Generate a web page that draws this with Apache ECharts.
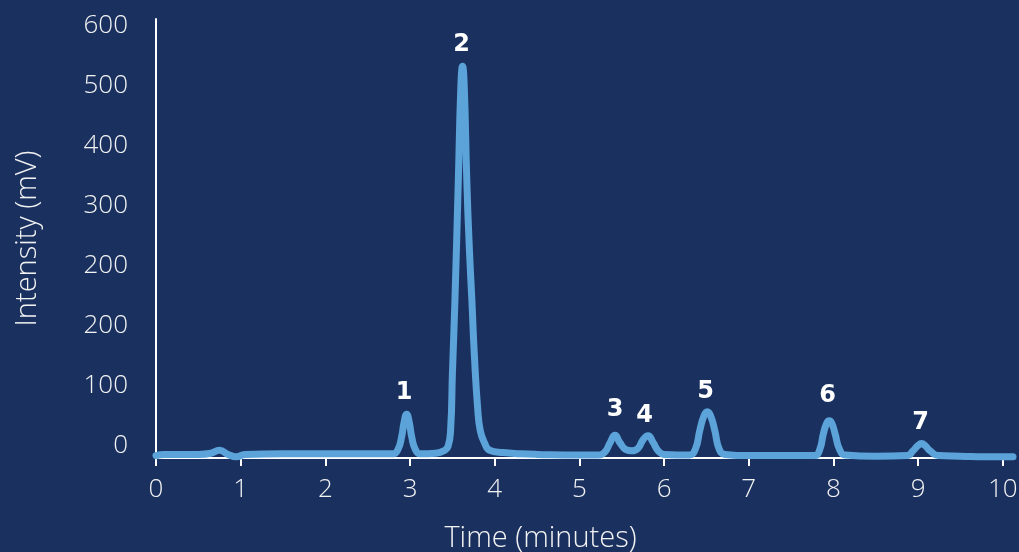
<!DOCTYPE html>
<html>
<head>
<meta charset="utf-8">
<script src="https://cdn.jsdelivr.net/npm/echarts@6/dist/echarts.min.js"></script>
<style>
html,body{margin:0;padding:0;background:#1a3160;}
#chart{width:1019px;height:552px;}
</style>
</head>
<body>
<div id="chart"></div>
<script>
// Time (minutes)
var times = [0, 0.1, 0.3, 0.5, 0.65, 0.75, 0.85, 0.95, 1.05, 1.5, 2.0, 2.5, 2.8,
  2.86, 2.90, 2.93, 2.96, 2.99, 3.02, 3.06, 3.12,
  3.30, 3.40, 3.45, 3.48, 3.50, 3.53, 3.57, 3.60, 3.62, 3.64, 3.67, 3.70, 3.73, 3.76, 3.80, 3.83, 3.88, 3.94,
  4.1, 4.3, 4.5, 5.0, 5.22,
  5.30, 5.36, 5.42, 5.48, 5.55, 5.62, 5.69, 5.75, 5.81, 5.87, 5.93, 6.0,
  6.3, 6.37, 6.42, 6.47, 6.51, 6.55, 6.60, 6.65, 6.72,
  7.0, 7.4, 7.78, 7.84, 7.88, 7.92, 7.95, 7.98, 8.02, 8.07, 8.14,
  8.5, 8.87, 8.94, 9.0, 9.04, 9.08, 9.14, 9.24,
  9.5, 9.8, 10.12];
// Intensity (mV, on the chart's printed scale)
var intensity = [-16, -14, -14, -14, -12, -7, -14, -18, -14, -13, -13, -13, -13,
  -5, 15, 40, 53, 40, 15, -5, -13,
  -12, -8, 0, 30, 120, 243, 443, 600, 633, 600, 443, 330, 243, 150, 60, 25, 5, -7,
  -11, -13, -14, -15, -15,
  -10, 5, 18, 5, -6, -8, -4, 10, 17, 6, -8, -14,
  -15, -5, 25, 50, 57, 50, 25, -5, -14,
  -16, -16, -16, -5, 20, 38, 42, 38, 20, -5, -15,
  -17, -16, -8, 1, 4, 1, -8, -16,
  -17, -18, -18];
// Peak labels
var peakNames = ['1', '2', '3', '4', '5', '6', '7'];
var peakLabelTimes = [2.93, 3.61, 5.42, 5.77, 6.49, 7.93, 9.03];
var peakLabelValues = [88, 668, 60, 51, 91, 83, 38];
// Axis tick labels
var xTickValues = [0, 1, 2, 3, 4, 5, 6, 7, 8, 9, 10];
var yTickValues = [0, 100, 200, 300, 400, 500, 600, 700];
var yTickLabels = ['0', '100', '200', '200', '300', '400', '500', '600'];

var lineData = times.map(function (t, i) { return [t, intensity[i]]; });
var labelData = peakNames.map(function (n, i) { return { value: [peakLabelTimes[i], peakLabelValues[i]], name: n }; });

var font = '"Open Sans", "DejaVu Sans", sans-serif';
var boldFont = '"DejaVu Sans", "Liberation Sans", sans-serif';
var chart = echarts.init(document.getElementById('chart'));
chart.setOption({
  backgroundColor: '#1a3160',
  animation: false,
  grid: { left: 156, right: 6, top: 19, bottom: 94, containLabel: false, outerBoundsMode: 'none' },
  xAxis: {
    type: 'value', min: 0, max: 10.12,
    name: 'Time (minutes)', nameLocation: 'middle', nameGap: 66,
    nameTextStyle: { color: '#f2f2f2', fontSize: 29, fontWeight: 300, fontFamily: font, padding: [0, 88, 0, 0] },
    axisLine: { show: true, onZero: false, lineStyle: { color: '#ffffff', width: 2 } },
    axisTick: { show: true, length: 8, lineStyle: { color: '#ffffff', width: 2 }, customValues: xTickValues },
    axisLabel: { color: '#f2f2f2', fontSize: 26, fontWeight: 300, fontFamily: font, margin: 19, customValues: xTickValues },
    splitLine: { show: false }
  },
  yAxis: {
    type: 'value', min: -20, max: 711.7,
    name: 'Intensity (mV)', nameLocation: 'middle', nameGap: 114,
    nameTextStyle: { color: '#f2f2f2', fontSize: 29, fontWeight: 300, fontFamily: font },
    axisLine: { show: true, onZero: false, lineStyle: { color: '#ffffff', width: 2 } },
    axisTick: { show: false },
    axisLabel: {
      color: '#f2f2f2', fontSize: 26, fontWeight: 300, fontFamily: font, margin: 28,
      padding: [0, 0, 6, 0],
      customValues: yTickValues,
      formatter: function (v) { return yTickLabels[Math.round(v / 100)]; }
    },
    splitLine: { show: false }
  },
  series: [
    {
      type: 'line', data: lineData, showSymbol: false, smooth: 0.5,
      lineStyle: { color: '#5ba3d9', width: 7, cap: 'round', join: 'round' }, z: 3
    },
    {
      type: 'scatter', data: labelData, symbolSize: 1, itemStyle: { color: '#1a3160', opacity: 1 },
      label: { show: true, position: 'inside', formatter: '{b}', color: '#ffffff', opacity: 1, textBorderWidth: 0, fontSize: 24, fontWeight: 'bold', fontFamily: boldFont },
      emphasis: { disabled: true },
      z: 4
    }
  ]
});
</script>
</body>
</html>
